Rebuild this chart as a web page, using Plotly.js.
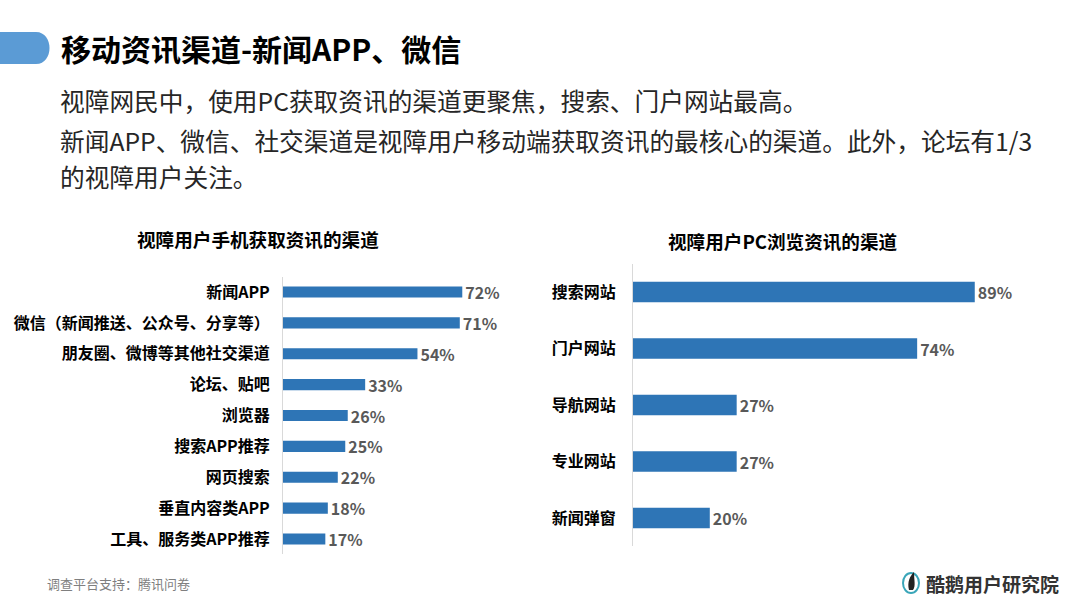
<!DOCTYPE html>
<html>
<head>
<meta charset="utf-8">
<script src="https://cdn.plot.ly/plotly-3.0.1.min.js"></script>
<style>html,body{margin:0;padding:0;background:#fff;}#chart{width:1080px;height:608px;}</style>
</head>
<body>
<div id="chart"></div>
<script>
// ---- data ----
const mobileChannels = ["新闻APP","微信（新闻推送、公众号、分享等）","朋友圈、微博等其他社交渠道","论坛、贴吧","浏览器","搜索APP推荐","网页搜索","垂直内容类APP","工具、服务类APP推荐"];
const mobileShare = [72,71,54,33,26,25,22,18,17];
const pcChannels = ["搜索网站","门户网站","导航网站","专业网站","新闻弹窗"];
const pcShare = [89,74,27,27,20];
const pageTitle = "移动资讯渠道-新闻APP、微信";
const bodyLines = ["视障网民中，使用PC获取资讯的渠道更聚焦，搜索、门户网站最高。","新闻APP、微信、社交渠道是视障用户移动端获取资讯的最核心的渠道。此外，论坛有1/3","的视障用户关注。"];
const mobileTitle = "视障用户手机获取资讯的渠道";
const pcTitle = "视障用户PC浏览资讯的渠道";
const footerText = "调查平台支持：腾讯问卷";
const brandText = "酷鹅用户研究院";

// ---- layout helpers ----
const W = 1080, H = 608;
const px = v => v / W;
const py = v => 1 - v / H;
const FONT = "Noto Sans CJK SC, Noto Sans, sans-serif";
const BAR = "#2e75b6";

const valueFont = {family: FONT, size: 16, color: "#595959", weight: "bold"};

const traces = [
  {
    type: "bar", orientation: "h",
    x: mobileShare, y: mobileChannels,
    xaxis: "x", yaxis: "y",
    marker: {color: BAR},
    width: 0.36,
    text: mobileShare.map(v => v + "%"),
    textposition: "outside",
    constraintext: "none",
    textfont: valueFont,
    cliponaxis: false
  },
  {
    type: "bar", orientation: "h",
    x: pcShare, y: pcChannels,
    xaxis: "x2", yaxis: "y2",
    marker: {color: BAR},
    width: 0.36,
    text: pcShare.map(v => v + "%"),
    textposition: "outside",
    constraintext: "none",
    textfont: valueFont,
    cliponaxis: false
  }
];

const yTickFont = {family: FONT, size: 16, color: "#000", weight: "bold"};

const layout = {
  width: W, height: H,
  margin: {l: 0, r: 0, t: 0, b: 0},
  paper_bgcolor: "#fff", plot_bgcolor: "rgba(0,0,0,0)",
  showlegend: false,
  font: {family: FONT},
  uniformtext: {mode: false},
  xaxis: {domain: [px(283), px(532)], range: [0, 100], visible: false, fixedrange: true},
  yaxis: {domain: [py(554.4), py(276.6)], type: "category", categoryorder: "array",
          categoryarray: mobileChannels, range: [8.5, -0.5],
          showline: true, linecolor: "#d9d9d9", linewidth: 1, showgrid: false, zeroline: false,
          ticks: "outside", ticklen: 9, tickcolor: "rgba(0,0,0,0)", tickfont: yTickFont, anchor: "x"},
  xaxis2: {domain: [px(633), px(1017)], range: [0, 100], visible: false, fixedrange: true},
  yaxis2: {domain: [py(546.25), py(263.75)], type: "category", categoryorder: "array",
           categoryarray: pcChannels, range: [4.5, -0.5],
           showline: true, linecolor: "#d9d9d9", linewidth: 1, showgrid: false, zeroline: false,
           ticks: "outside", ticklen: 13, tickcolor: "rgba(0,0,0,0)", tickfont: yTickFont, anchor: "x2"},
  shapes: [
    {type: "path", xref: "paper", yref: "paper",
     path: `M 0,${py(32)} L ${px(36)},${py(32)} C ${px(54)},${py(32)} ${px(54)},${py(64)} ${px(36)},${py(64)} L 0,${py(64)} Z`,
     fillcolor: "#5b9bd5", line: {width: 0}},
    // brand logo mark
    {type: "circle", xref: "paper", yref: "paper",
     x0: px(903), x1: px(919), y0: py(593), y1: py(573),
     line: {color: "#3aa6b9", width: 2}, fillcolor: "rgba(0,0,0,0)"},
    {type: "path", xref: "paper", yref: "paper",
     path: `M ${px(909)},${py(590)} C ${px(907)},${py(582)} ${px(910)},${py(576)} ${px(914)},${py(572)} C ${px(914)},${py(580)} ${px(916)},${py(586)} ${px(913)},${py(590)} Z`,
     fillcolor: "#222", line: {width: 0}}
  ],
  annotations: [
    {text: "<b>" + pageTitle + "</b>", xref: "paper", yref: "paper", x: px(59), y: py(48),
     xanchor: "left", yanchor: "middle", showarrow: false, font: {family: FONT, size: 30, color: "#000"}},
    {text: bodyLines[0], xref: "paper", yref: "paper", x: px(58), y: py(100),
     xanchor: "left", yanchor: "middle", showarrow: false, font: {family: FONT, size: 24.7, color: "#262626"}},
    {text: bodyLines[1], xref: "paper", yref: "paper", x: px(58), y: py(140),
     xanchor: "left", yanchor: "middle", showarrow: false, font: {family: FONT, size: 24.7, color: "#262626"}},
    {text: bodyLines[2], xref: "paper", yref: "paper", x: px(58), y: py(176),
     xanchor: "left", yanchor: "middle", showarrow: false, font: {family: FONT, size: 24.7, color: "#262626"}},
    {text: "<b>" + mobileTitle + "</b>", xref: "paper", yref: "paper", x: px(258), y: py(238),
     xanchor: "center", yanchor: "middle", showarrow: false, font: {family: FONT, size: 18.6, color: "#000"}},
    {text: "<b>" + pcTitle + "</b>", xref: "paper", yref: "paper", x: px(783), y: py(240),
     xanchor: "center", yanchor: "middle", showarrow: false, font: {family: FONT, size: 18.6, color: "#000"}},
    {text: footerText, xref: "paper", yref: "paper", x: px(45), y: py(583),
     xanchor: "left", yanchor: "middle", showarrow: false, font: {family: FONT, size: 13, color: "#7f7f7f"}},
    {text: "<b>" + brandText + "</b>", xref: "paper", yref: "paper", x: px(924), y: py(583),
     xanchor: "left", yanchor: "middle", showarrow: false, font: {family: FONT, size: 19, color: "#333"}}
  ]
};

Plotly.newPlot("chart", traces, layout, {staticPlot: true, displayModeBar: false});
</script>
</body>
</html>
